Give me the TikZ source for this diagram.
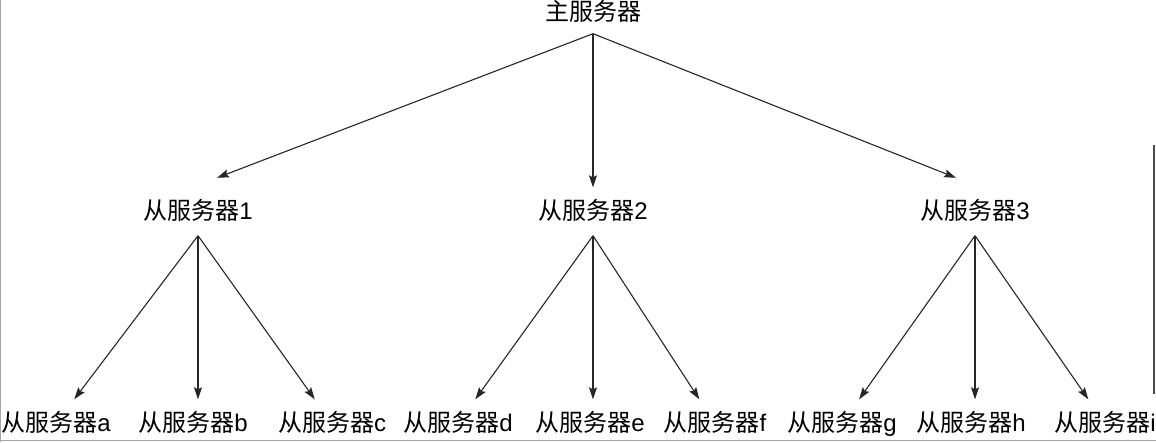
\documentclass[tikz,border=0pt]{standalone}
\usepackage{fontspec}
\setmainfont{Liberation Sans}
\newfontfamily\cjk{Noto Sans CJK SC}
\usetikzlibrary{arrows.meta}
\newcommand{\slavesrv}[1]{{\cjk 从服务器}#1}
\begin{document}
\begin{tikzpicture}[x=1pt, y=-1pt,
  srv/.style={font=\fontsize{24}{28}\selectfont, text height=20pt, text depth=4pt, inner xsep=0pt, inner ysep=12pt},
  link/.style={-{Stealth[length=12pt,width=8pt,inset=2pt]}, line width=1.1pt, black!85}]
\useasboundingbox (0,0) rectangle (1156,442);
% top level
\node (master) [srv] at (593,12.5) {{\cjk 主服务器}};
% second level
\node (s1) [srv] at (198,211.5) {\slavesrv{1}};
\node (s2) [srv] at (593,211.5) {\slavesrv{2}};
\node (s3) [srv] at (975,211.5) {\slavesrv{3}};
% third level
\node (sa) [srv] at (56,423.5) {\slavesrv{a}};
\node (sb) [srv] at (193,423.5) {\slavesrv{b}};
\node (sc) [srv] at (332,423.5) {\slavesrv{c}};
\node (sd) [srv] at (458,423.5) {\slavesrv{d}};
\node (se) [srv] at (590,423.5) {\slavesrv{e}};
\node (sf) [srv] at (715,423.5) {\slavesrv{f}};
\node (sg) [srv] at (842,423.5) {\slavesrv{g}};
\node (sh) [srv] at (971,423.5) {\slavesrv{h}};
\node (si) [srv] at (1105,423.5) {\slavesrv{i}};
\draw[link] ([yshift=3pt]master.south) -- ([xshift=19pt,yshift=9.5pt]s1.north);
\draw[link] ([yshift=3pt]master.south) -- (s2.north);
\draw[link] ([yshift=3pt]master.south) -- ([xshift=-19pt,yshift=9.5pt]s3.north);
\draw[link] (s1.south) -- (sa);
\draw[link] (s1.south) -- (s1.south |- sb.north);
\draw[link] (s1.south) -- (sc);
\draw[link] (s2.south) -- (sd);
\draw[link] (s2.south) -- (s2.south |- se.north);
\draw[link] (s2.south) -- (sf);
\draw[link] (s3.south) -- (sg);
\draw[link] (s3.south) -- (s3.south |- sh.north);
\draw[link] (s3.south) -- (si);
% frame lines
\draw[line width=1.5pt, black!70] (1154,145) -- (1154,394);
\draw[line width=1pt, black!35] (0.5,0) -- (0.5,442);
\draw[line width=1pt, black!35] (0,440.5) -- (1156,440.5);
\end{tikzpicture}
\end{document}
